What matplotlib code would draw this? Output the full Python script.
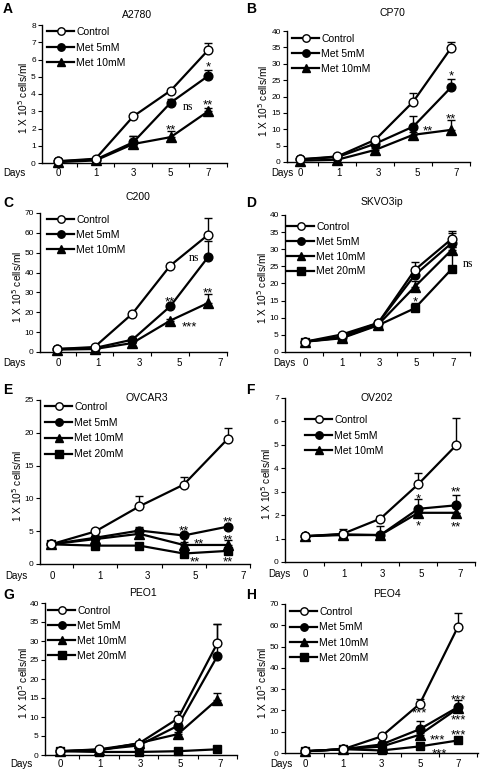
import matplotlib
matplotlib.use("Agg")
import matplotlib.pyplot as plt
import numpy as np

plt.rcParams['font.family'] = ['Liberation Sans', 'DejaVu Sans']

W, H = 480, 771
days = ['0', '1', '3', '5', '7']
series_names = ['Control', 'Met 5mM', 'Met 10mM', 'Met 20mM']

# ---- A: A2780
a2780_ctrl = [0.1, 0.25, 2.7, 4.2, 6.55]
a2780_ctrl_err = [0, 0.05, 0.1, 0.1, 0.4]
a2780_met5 = [0.1, 0.2, 1.2, 3.5, 5.05]
a2780_met5_err = [0, 0, 0.35, 0.2, 0.35]
a2780_met10 = [0.05, 0.15, 1.1, 1.5, 3.0]
a2780_met10_err = [0, 0, 0.45, 0.35, 0.2]

# ---- B: CP70
cp70_ctrl = [0.8, 1.7, 6.8, 18.4, 34.8]
cp70_ctrl_err = [0, 0.3, 0.5, 2.6, 1.9]
cp70_met5 = [0.8, 1.5, 5.6, 10.8, 22.8]
cp70_met5_err = [0, 0, 0.5, 3.2, 2.5]
cp70_met10 = [0.4, 0.7, 3.7, 8.3, 9.8]
cp70_met10_err = [0, 0, 0.5, 0.8, 2.9]

# ---- C: C200
c200_ctrl = [1.5, 2.5, 19.3, 43.5, 59.0]
c200_ctrl_err = [0, 0, 0.8, 0.8, 8.5]
c200_met5 = [1.5, 2.0, 6.2, 23.0, 47.8]
c200_met5_err = [0, 0, 0.5, 0.8, 7.9]
c200_met10 = [1.2, 1.5, 4.5, 15.8, 24.7]
c200_met10_err = [0, 0, 0.5, 0.8, 4.5]

# ---- D: SKVO3ip
skov_ctrl = [3.0, 5.1, 8.5, 24.0, 33.0]
skov_ctrl_err = [0, 0.3, 0.6, 2.4, 2.3]
skov_met5 = [3.0, 4.5, 8.5, 22.5, 31.8]
skov_met5_err = [0, 0, 0.5, 0.8, 3.0]
skov_met10 = [3.0, 4.2, 8.0, 19.1, 29.8]
skov_met10_err = [0, 0, 0.5, 1.5, 1.0]
skov_met20 = [3.0, 4.0, 7.8, 12.8, 24.2]
skov_met20_err = [0, 0, 0.5, 1.5, 6.5]

# ---- E: OVCAR3
ovcar_ctrl = [3.0, 4.96, 8.8, 12.1, 19.1]
ovcar_ctrl_err = [0, 0.3, 1.5, 1.2, 1.6]
ovcar_met5 = [3.0, 4.0, 5.1, 4.35, 5.7]
ovcar_met5_err = [0, 0, 0.6, 0.3, 0.3]
ovcar_met10 = [3.0, 3.8, 4.6, 2.9, 2.9]
ovcar_met10_err = [0, 0, 0.4, 0.4, 0.7]
ovcar_met20 = [3.0, 2.8, 2.8, 1.6, 2.0]
ovcar_met20_err = [0, 0, 0.2, 0.5, 0.5]

# ---- F: OV202
ov202_ctrl = [1.1, 1.2, 1.85, 3.32, 4.98]
ov202_ctrl_err = [0, 0.2, 0.1, 0.46, 1.17]
ov202_met5 = [1.1, 1.18, 1.15, 2.27, 2.42]
ov202_met5_err = [0, 0, 0.4, 0.42, 0.46]
ov202_met10 = [1.1, 1.15, 1.15, 2.1, 2.1]
ov202_met10_err = [0, 0, 0, 0, 0]

# ---- G: PEO1
peo1_ctrl = [1.0, 1.5, 3.0, 9.6, 29.4]
peo1_ctrl_err = [0, 0, 0.3, 2.0, 5.2]
peo1_met5 = [1.0, 1.4, 2.5, 7.7, 26.0]
peo1_met5_err = [0, 0, 0.3, 0.8, 8.5]
peo1_met10 = [1.0, 1.2, 3.1, 5.5, 14.6]
peo1_met10_err = [0, 0, 0.3, 0.5, 1.6]
peo1_met20 = [1.0, 0.8, 0.8, 1.0, 1.5]
peo1_met20_err = [0, 0, 0, 0, 0.3]

# ---- H: PEO4
peo4_ctrl = [0.8, 1.8, 7.8, 23.1, 59.4]
peo4_ctrl_err = [0, 0, 0.5, 2.2, 6.5]
peo4_met5 = [0.8, 1.8, 4.0, 11.2, 21.6]
peo4_met5_err = [0, 0, 0.5, 3.8, 3.4]
peo4_met10 = [0.8, 1.8, 3.0, 8.6, 21.0]
peo4_met10_err = [0, 0, 0.3, 0.8, 1.0]
peo4_met20 = [0.8, 1.8, 1.2, 3.1, 5.9]
peo4_met20_err = [0, 0, 0.2, 0.3, 0.6]

styles = [
    dict(marker='o', mfc='white', mec='black', ms=6.3),
    dict(marker='o', mfc='black', mec='black', ms=6.3),
    dict(marker='^', mfc='black', mec='black', ms=6.5),
    dict(marker='s', mfc='black', mec='black', ms=6.0),
]

panels = [
    dict(letter='A', title='A2780', box=(42, 227, 25, 163), xlim=(-0.43, 4.5), ymax=8, ystep=1,
         data=[(a2780_ctrl, a2780_ctrl_err), (a2780_met5, a2780_met5_err), (a2780_met10, a2780_met10_err)],
         letter_xy=(3, 9), title_xy=(137, 15), leg=(47, 33, 17.5), ylab_x=23, days_xy=(14, 173),
         ann=[(4, 5.75, '*', 'sans'), (3.45, 3.25, 'ns', 'serif'), (3, 2.1, '**', 'sans'),
              (4, 3.55, '**', 'sans')]),
    dict(letter='B', title='CP70', box=(287, 470, 31, 162), xlim=(-0.33, 4.36), ymax=40, ystep=5,
         data=[(cp70_ctrl, cp70_ctrl_err), (cp70_met5, cp70_met5_err), (cp70_met10, cp70_met10_err)],
         letter_xy=(246, 9), title_xy=(392, 13), leg=(292, 40, 17), ylab_x=263, days_xy=(282, 173),
         ann=[(4, 27.3, '*', 'sans'), (4, 14.2, '**', 'sans'), (3.4, 10.4, '**', 'sans')]),
    dict(letter='C', title='C200', box=(40, 227, 213, 352), xlim=(-0.44, 4.17), ymax=70, ystep=10,
         data=[(c200_ctrl, c200_ctrl_err), (c200_met5, c200_met5_err), (c200_met10, c200_met10_err)],
         letter_xy=(3, 203), title_xy=(138, 197), leg=(47, 221, 16.8), ylab_x=17, days_xy=(14, 363),
         ann=[(3.62, 47.5, 'ns', 'serif'), (3, 26.8, '**', 'sans'), (4, 31.3, '**', 'sans'),
              (3.5, 14.3, '***', 'sans')]),
    dict(letter='D', title='SKVO3ip', box=(285, 470, 215, 352), xlim=(-0.54, 4.46), ymax=40, ystep=5,
         data=[(skov_ctrl, skov_ctrl_err), (skov_met5, skov_met5_err), (skov_met10, skov_met10_err),
               (skov_met20, skov_met20_err)],
         letter_xy=(246, 203), title_xy=(382, 202), leg=(287, 228, 16.8), ylab_x=262, days_xy=(284, 363),
         ann=[(3, 15.6, '*', 'sans'), (4.45, 25.8, 'ns', 'serif')]),
    dict(letter='E', title='OVCAR3', box=(40, 250, 400, 564), xlim=(-0.25, 4.15), ymax=25, ystep=5,
         data=[(ovcar_ctrl, ovcar_ctrl_err), (ovcar_met5, ovcar_met5_err), (ovcar_met10, ovcar_met10_err),
               (ovcar_met20, ovcar_met20_err)],
         letter_xy=(3, 390), title_xy=(147, 398), leg=(45, 408, 17.7), ylab_x=17, days_xy=(16, 576),
         ann=[(3, 5.6, '**', 'sans'), (3.35, 3.6, '**', 'sans'), (3.25, 0.85, '**', 'sans'),
              (4, 6.9, '**', 'sans'), (4, 4.2, '**', 'sans'), (4, 0.85, '**', 'sans')]),
    dict(letter='F', title='OV202', box=(285, 475, 398, 562), xlim=(-0.52, 4.39), ymax=7, ystep=1,
         data=[(ov202_ctrl, ov202_ctrl_err), (ov202_met5, ov202_met5_err), (ov202_met10, ov202_met10_err)],
         letter_xy=(246, 390), title_xy=(377, 398), leg=(305, 421, 17.5), ylab_x=266, days_xy=(279, 574),
         ann=[(3, 2.85, '*', 'sans'), (3, 1.68, '*', 'sans'), (4, 3.12, '**', 'sans'),
              (4, 1.66, '**', 'sans')]),
    dict(letter='G', title='PEO1', box=(45, 237, 603, 755), xlim=(-0.375, 4.43), ymax=40, ystep=5,
         data=[(peo1_ctrl, peo1_ctrl_err), (peo1_met5, peo1_met5_err), (peo1_met10, peo1_met10_err),
               (peo1_met20, peo1_met20_err)],
         letter_xy=(3, 595), title_xy=(143, 593), leg=(48, 612, 16.9), ylab_x=23, days_xy=(21, 764),
         ann=[]),
    dict(letter='H', title='PEO4', box=(285, 478, 604, 753), xlim=(-0.52, 4.52), ymax=70, ystep=10,
         data=[(peo4_ctrl, peo4_ctrl_err), (peo4_met5, peo4_met5_err), (peo4_met10, peo4_met10_err),
               (peo4_met20, peo4_met20_err)],
         letter_xy=(246, 595), title_xy=(387, 594), leg=(290, 613, 17.3), ylab_x=262, days_xy=(281, 764),
         ann=[(3, 20.5, '***', 'sans'), (3.45, 7.6, '***', 'sans'), (3.5, 1.3, '***', 'sans'),
              (4, 26.5, '***', 'sans'), (4, 17.0, '***', 'sans'), (4, 10.0, '***', 'sans')]),
]

fig = plt.figure(figsize=(W / 100, H / 100), dpi=100)


def fx(px):
    return px / W


def fy(py):
    return 1 - py / H


for p in panels:
    x0, x1, yt, yb = p['box']
    ax = fig.add_axes([fx(x0), fy(yb), (x1 - x0) / W, (yb - yt) / H])
    ax.set_xlim(*p['xlim'])
    ax.set_ylim(0, p['ymax'])
    xs = np.arange(len(days))
    handles = []
    for i, (vals, err) in enumerate(p['data']):
        st = styles[i]
        ax.errorbar(xs, vals, yerr=[np.zeros(len(vals)), err], fmt='none', ecolor='black',
                    elinewidth=1.0, capsize=3, capthick=1.0, zorder=2)
        ln, = ax.plot(xs, vals, color='black', lw=1.6, zorder=3 + (3 - i), clip_on=False, **st)
        handles.append(ln)
    for spine in ['top', 'right']:
        ax.spines[spine].set_visible(False)
    for spine in ['left', 'bottom']:
        ax.spines[spine].set_linewidth(1.0)
    ax.set_yticks(np.arange(0, p['ymax'] + 0.01, p['ystep']))
    ax.tick_params(axis='y', labelsize=6, length=3, width=0.8, pad=1.5, direction='out')
    ax.set_xticks(xs + 0.5, minor=True)
    ax.set_xticks([])
    ax.tick_params(axis='x', which='minor', length=3, width=0.8, direction='out')
    ly = p['days_xy'][1]
    for xi, lab in zip(xs, days):
        xp = x0 + (xi - p['xlim'][0]) / (p['xlim'][1] - p['xlim'][0]) * (x1 - x0)
        fig.text(fx(xp), fy(ly), lab, ha='center', va='center', fontsize=7)
    fig.text(fx(p['days_xy'][0]), fy(ly), 'Days', ha='center', va='center', fontsize=7)
    fig.text(fx(p['ylab_x']), fy((yt + yb) / 2 + 4), '1 X 10$^5$ cells/ml', rotation=90,
             ha='center', va='center', fontsize=7.3)
    fig.text(fx(p['title_xy'][0]), fy(p['title_xy'][1]), p['title'], ha='center', va='center', fontsize=7.5)
    fig.text(fx(p['letter_xy'][0]), fy(p['letter_xy'][1]), p['letter'], ha='left', va='center',
             fontsize=10, fontweight='bold')
    lx, lyy, sp = p['leg']
    fs = 7.5
    fs_px = fs * 100 / 72
    ax.legend(handles, series_names[:len(handles)], loc='upper left',
              bbox_to_anchor=(fx(lx), fy(lyy - 6)), bbox_transform=fig.transFigure,
              frameon=False, fontsize=fs, handlelength=2.6, handletextpad=0.2,
              labelspacing=(sp - fs_px * 1.15) / fs_px, borderpad=0, borderaxespad=0,
              markerscale=0.85)
    for (ax_x, ax_y, txt, fam) in p['ann']:
        if fam == 'serif':
            ax.text(ax_x, ax_y, txt, ha='center', va='center', fontsize=8.5,
                    family=['Liberation Serif', 'DejaVu Serif'], zorder=10)
        else:
            ax.annotate(txt, (ax_x, ax_y), xytext=(0, -2.8), textcoords='offset points',
                        ha='center', va='center', fontsize=9.5, zorder=10)

fig.savefig('out.png', dpi=100)
